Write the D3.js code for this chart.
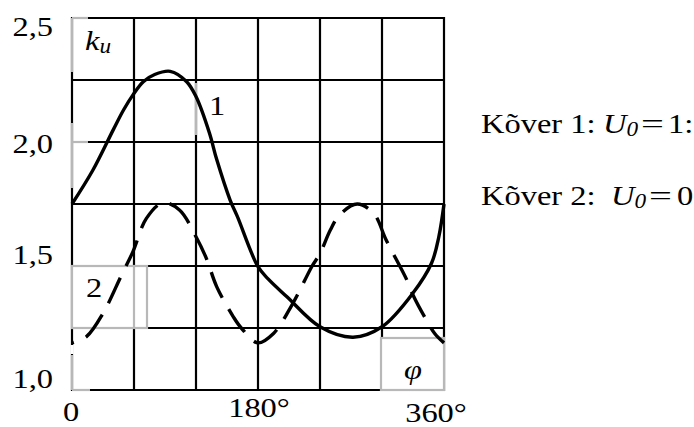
<!DOCTYPE html>
<html>
<head>
<meta charset="utf-8">
<script src="https://cdn.jsdelivr.net/npm/d3@7"></script>
<style>
  html, body { margin: 0; padding: 0; background: #fff; }
  svg { display: block; }
  text { font-family: "Liberation Serif", "Times New Roman", serif; fill: #000; }
</style>
</head>
<body>
<svg id="chart" width="694" height="427"></svg>
<script>
// Phase angle φ (degrees) and gain k_u for the two curves
const curve1Phi = [0, 20, 40, 50, 59, 69, 80, 95, 111, 120, 133, 140, 153, 160, 180, 190, 208, 240, 272, 300, 330, 348, 355, 360];
const curve1K   = [1.75, 1.885, 2.05, 2.13, 2.19, 2.243, 2.272, 2.285, 2.243, 2.183, 2.036, 1.93, 1.766, 1.70, 1.497, 1.447, 1.376, 1.255, 1.213, 1.255, 1.391, 1.512, 1.618, 1.75];

const curve2Phi = [0, 14, 30, 48, 59, 72, 88, 104, 120, 130, 140, 156, 164, 180, 195, 211, 219, 232, 240, 250, 259, 276, 292, 304, 324, 330, 342, 351, 360];
const curve2K   = [1.19, 1.215, 1.309, 1.464, 1.558, 1.692, 1.755, 1.726, 1.618, 1.531, 1.417, 1.296, 1.249, 1.19, 1.228, 1.329, 1.39, 1.497, 1.55, 1.645, 1.706, 1.75, 1.712, 1.605, 1.444, 1.383, 1.289, 1.228, 1.19];

// Grid and tick values
const xGrid = [0, 60, 120, 180, 240, 300, 360];
const yGrid = [1.0, 1.25, 1.5, 1.75, 2.0, 2.25, 2.5];
const xTickValues = [0, 180, 360];
const xTickLabels = ["0", "180°", "360°"];
const yTickValues = [1.0, 1.5, 2.0, 2.5];
const yTickLabels = ["1,0", "1,5", "2,0", "2,5"];

// Legend lines
const legendNames = ["Kõver 1:", "Kõver 2:"];
const legendValues = ["1:", "0"];

const svg = d3.select("#chart");
const x = d3.scaleLinear().domain([0, 360]).range([72, 444]);
const y = d3.scaleLinear().domain([1.0, 2.5]).range([390, 18]);

const FS = 28;    // base font size
const SX = 1.16;  // horizontal widening of the serif type

// Place a text item at (px, py), widened horizontally
function label(px, py, str, opts = {}) {
  const t = svg.append("text")
    .attr("transform", `translate(${px},${py}) scale(${opts.sx || SX},1)`)
    .attr("font-size", opts.size || FS)
    .attr("text-anchor", opts.anchor || "start");
  if (opts.italic) t.attr("font-style", "italic");
  t.text(str);
  return t;
}

// Grid
const grid = svg.append("g").attr("stroke", "#000").attr("stroke-width", 2.2);
grid.selectAll("line.v").data(xGrid).join("line")
  .attr("x1", d => x(d)).attr("x2", d => x(d))
  .attr("y1", y(2.5) - 1).attr("y2", y(1.0) + 1);
grid.selectAll("line.h").data(yGrid).join("line")
  .attr("y1", d => y(d)).attr("y2", d => y(d))
  .attr("x1", x(0) - 1).attr("x2", x(360) + 1);

// Label boxes (white, light grey outline) lying over the grid
const boxes = svg.append("g").attr("stroke", "#b8b8b8").attr("stroke-width", 2.2);
boxes.append("rect").attr("x", x(0)).attr("y", y(1.5)).attr("width", 75).attr("height", y(1.25) - y(1.5))
  .attr("fill", "#fff");
boxes.append("line").attr("x1", x(60)).attr("x2", x(60)).attr("y1", y(1.5)).attr("y2", y(1.25));
boxes.append("rect").attr("x", x(300) - 1).attr("y", 338).attr("width", x(360) - x(300) + 1).attr("height", y(1.0) - 338)
  .attr("fill", "#fff");
const grey = [
  [x(0), y(2.5), x(0), 72], [x(0), y(2.5), x(0) + 16, y(2.5)],
  [x(0), 123, x(0), 188], [x(0), y(2.0), x(0) + 16, y(2.0)],
  [x(120), 83, x(120), 135],
  [x(0), 355, x(0), y(1.0)], [x(0), y(1.0), x(0) + 18, y(1.0)]
];
boxes.selectAll("line.g").data(grey).join("line")
  .attr("x1", d => d[0]).attr("y1", d => d[1]).attr("x2", d => d[2]).attr("y2", d => d[3]);
svg.append("line").attr("x1", x(0)).attr("x2", x(0)).attr("y1", 345).attr("y2", 354)
  .attr("stroke", "#fff").attr("stroke-width", 3);

// Curves
const line = d3.line().x(d => x(d[0])).y(d => y(d[1])).curve(d3.curveCatmullRom.alpha(0.5));
svg.append("path").datum(d3.zip(curve1Phi, curve1K))
  .attr("d", line).attr("fill", "none").attr("stroke", "#000").attr("stroke-width", 3.4);
svg.append("path").datum(d3.zip(curve2Phi, curve2K))
  .attr("d", line).attr("fill", "none").attr("stroke", "#000").attr("stroke-width", 3.4)
  .attr("stroke-dasharray", "28,13").attr("stroke-dashoffset", 26);

// Tick labels
const yDy = [-2, -2, 11, 18];
yTickValues.forEach((v, i) => label(53, y(v) + yDy[i], yTickLabels[i], { anchor: "end" }));

const xDx = [-1, 1, -8];
const xBase = [421, 417, 422];
xTickValues.forEach((v, i) => label(x(v) + xDx[i], xBase[i], xTickLabels[i], { anchor: "middle" }));

// Axis titles
const ku = label(85, 50, "k", { italic: true });
ku.append("tspan").attr("font-size", 20).attr("dy", 3).text("u");
label(404, 379, "φ", { italic: true });

// Curve numbers
label(209, 115, "1");
label(86, 297, "2");

// Legend
const legY = [133, 205];
const uX = [603, 611];
const eqX = [641, 649];
const valX = [668, 677];
legendNames.forEach((name, i) => {
  label(481, legY[i], name);
  const u = label(uX[i], legY[i], "U", { italic: true });
  u.append("tspan").attr("font-size", 20).attr("dy", 3).text("0");
  label(eqX[i], legY[i], "=", { sx: 1.45 });
  label(valX[i], legY[i], legendValues[i]);
});
</script>
</body>
</html>
